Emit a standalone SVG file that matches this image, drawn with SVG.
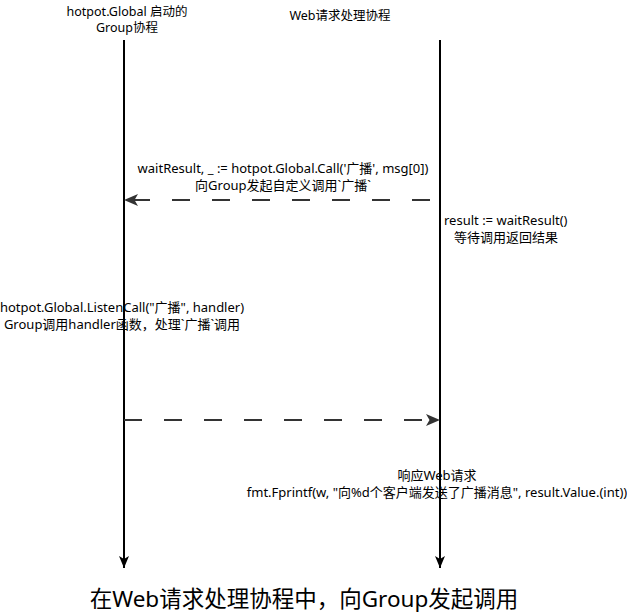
<svg xmlns="http://www.w3.org/2000/svg" width="627" height="614" viewBox="0 0 627 614">
<style>
text{font-family:"Noto Sans","Noto Sans CJK SC",sans-serif;font-size:13px;fill:#000}
.c{text-anchor:middle}
.h{font-size:12.5px}
.life{stroke:#000;stroke-width:2;fill:none}
.msg{stroke:#333;stroke-width:2;fill:none;stroke-dasharray:18 22}
</style>
<defs>
<marker id="ab" viewBox="0 0 12 10" refX="12" refY="5" markerWidth="12" markerHeight="10" markerUnits="userSpaceOnUse" orient="auto">
<path d="M0,0 L12,5 L0,10 L3,5 Z" fill="#000"/>
</marker>
<marker id="ag" viewBox="0 0 14 12" refX="14" refY="6" markerWidth="14" markerHeight="12" markerUnits="userSpaceOnUse" orient="auto">
<path d="M0,0 L14,6 L0,12 L3.5,6 Z" fill="#333"/>
</marker>
</defs>
<g id="group-lifeline">
<text class="c h" x="127" y="16">hotpot.Global 启动的</text>
<text class="c h" x="127" y="32">Group协程</text>
<line class="life" x1="124" y1="40" x2="124" y2="568" marker-end="url(#ab)"/>
</g>
<g id="web-lifeline">
<text class="c h" x="340" y="20">Web请求处理协程</text>
<line class="life" x1="440" y1="40" x2="440" y2="568" marker-end="url(#ab)"/>
</g>
<g id="connectors">
<line class="msg" x1="430" y1="200" x2="124" y2="200" marker-end="url(#ag)"/>
<line class="msg" x1="124" y1="420" x2="440" y2="420" marker-end="url(#ag)"/>
</g>
<g id="call-label">
<text class="c" x="283" y="173">waitResult, _ := hotpot.Global.Call('广播', msg[0])</text>
<text class="c" x="283" y="190">向Group发起自定义调用`广播`</text>
</g>
<g id="wait-label">
<text x="444" y="225">result := waitResult()</text>
<text x="454" y="242">等待调用返回结果</text>
</g>
<g id="listen-label">
<text class="c" x="122" y="312">hotpot.Global.ListenCall("广播", handler)</text>
<text class="c" x="122" y="329">Group调用handler函数，处理`广播`调用</text>
</g>
<g id="respond-label">
<text class="c" x="437" y="480">响应Web请求</text>
<text class="c" x="437" y="497">fmt.Fprintf(w, "向%d个客户端发送了广播消息", result.Value.(int))</text>
</g>
<g id="title">
<text class="c" x="304" y="607" style="font-size:22.5px">在Web请求处理协程中，向Group发起调用</text>
</g>
</svg>
